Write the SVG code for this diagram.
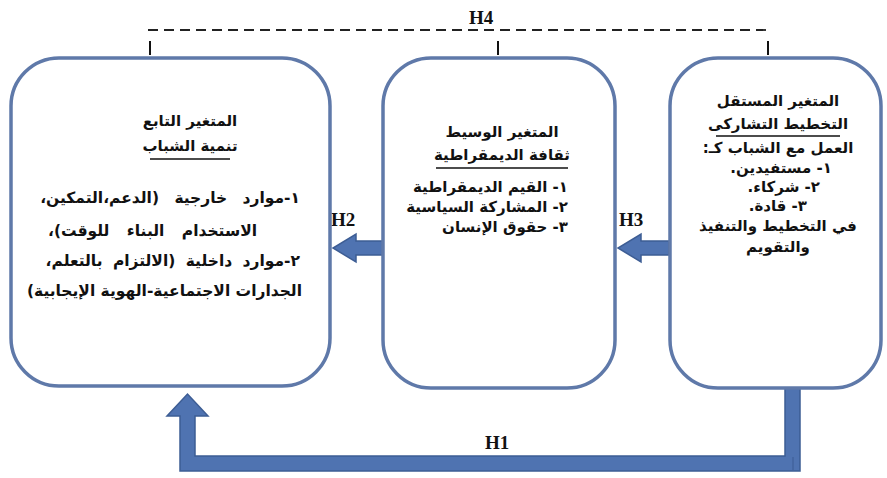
<svg xmlns="http://www.w3.org/2000/svg" width="887" height="478" viewBox="0 0 887 478">
<style>
.box{fill:#ffffff;stroke:#5f79a9;stroke-width:3.5}
.ar{font-family:"DejaVu Sans",sans-serif;font-weight:bold;font-size:15px;fill:#111;direction:rtl}
.c{text-anchor:middle}
.b{font-size:15.5px}
.h{font-family:"Liberation Serif",serif;font-weight:bold;font-size:19px;fill:#111}
.blk{fill:#4f73b1;stroke:#3d5d94;stroke-width:1.5}
.u{stroke:#111;stroke-width:1.5}
.tick{stroke:#111;stroke-width:2}
</style>
<rect width="887" height="478" fill="#ffffff"/>
<g id="connectors">
  <line x1="148" y1="30" x2="772" y2="30" stroke="#222" stroke-width="1.8" stroke-dasharray="10 6"/>
  <text class="h" x="469" y="24">H4</text>
  <line class="tick" x1="150" y1="41" x2="150" y2="55"/>
  <line class="tick" x1="498" y1="41" x2="498" y2="55"/>
  <line class="tick" x1="768" y1="41" x2="768" y2="55"/>
  <path class="blk" d="M383,241 L356,241 L356,234 L333,248 L356,262 L356,255 L383,255 Z"/>
  <text class="h" x="331" y="226">H2</text>
  <path class="blk" d="M669,241 L641,241 L641,234 L618,248 L641,262 L641,255 L669,255 Z"/>
  <text class="h" x="619" y="226">H3</text>
  <path class="blk" d="M785,384 L800,384 L800,471 L180,471 L180,416 L167,416 L187.5,394 L208,416 L195,416 L195,456 L785,456 Z"/>
  <line x1="793" y1="457" x2="793" y2="470" stroke="#3d5d94" stroke-width="1"/>
  <text class="h" x="485" y="449">H1</text>
</g>
<g id="node-dependent">
  <rect class="box" x="11" y="58" width="319" height="328" rx="48"/>
  <text class="ar c" x="190" y="126">المتغير التابع</text>
  <text class="ar c" x="190" y="151">تنمية الشباب</text>
  <line class="u" x1="150" y1="159" x2="230" y2="159"/>
  <text class="ar b" x="300" y="203" word-spacing="10">١-موارد خارجية (الدعم،التمكين،</text>
  <text class="ar b" x="257" y="236" word-spacing="12">الاستخدام البناء للوقت)،</text>
  <text class="ar b" x="300" y="266" word-spacing="5">٢-موارد داخلية (الالتزام بالتعلم،</text>
  <text class="ar b" x="302" y="296">الجدارات الاجتماعية-الهوية الإيجابية)</text>
</g>
<g id="node-mediator">
  <rect class="box" x="383" y="58" width="232" height="330" rx="48"/>
  <text class="ar c" x="502" y="137">المتغير الوسيط</text>
  <text class="ar c" x="502" y="160">ثقافة الديمقراطية</text>
  <line class="u" x1="436" y1="168" x2="568" y2="168"/>
  <text class="ar" x="568" y="192">١- القيم الديمقراطية</text>
  <text class="ar" x="568" y="212">٢- المشاركة السياسية</text>
  <text class="ar" x="568" y="232">٣- حقوق الإنسان</text>
</g>
<g id="node-independent">
  <rect class="box" x="670" y="58" width="211" height="330" rx="48"/>
  <text class="ar c" x="778" y="106">المتغير المستقل</text>
  <text class="ar c" x="778" y="129">التخطيط التشاركى</text>
  <line class="u" x1="716" y1="136" x2="840" y2="136"/>
  <text class="ar c" x="778" y="153">العمل مع الشباب كـ:</text>
  <text class="ar" x="832" y="173">١- مستفيدين.</text>
  <text class="ar" x="820" y="192">٢- شركاء.</text>
  <text class="ar" x="807" y="211">٣- قادة.</text>
  <text class="ar c" x="778" y="231">في التخطيط والتنفيذ</text>
  <text class="ar c" x="778" y="252">والتقويم</text>
</g>
</svg>
